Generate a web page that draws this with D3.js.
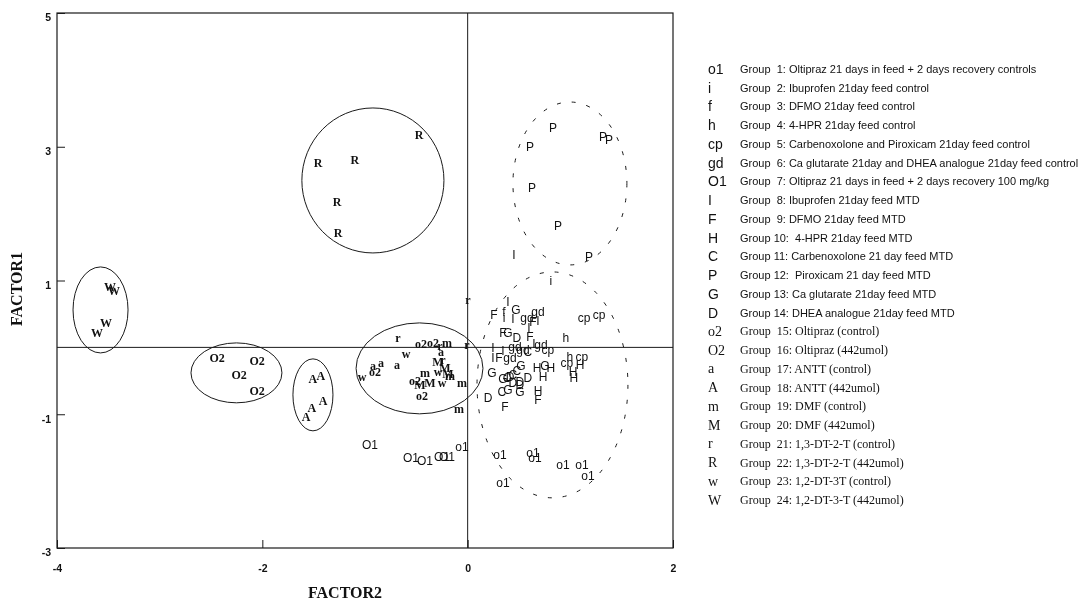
<!DOCTYPE html>
<html><head><meta charset="utf-8">
<script src="https://cdn.jsdelivr.net/npm/d3@7"></script>
<style>body{margin:0;background:#fff} svg{filter:grayscale(1)}</style>
</head><body><svg id="c" width="1080" height="602"></svg>
<script>
// ---------- data ----------
const xTicks = [-4, -2, 0, 2];
const yTicks = [5, 3, 1, -1, -3];
const xTitle = "FACTOR2";
const yTitle = "FACTOR1";

const legendSymbols = ["o1","i","f","h","cp","gd","O1","I","F","H","C","P","G","D",
  "o2","O2","a","A","m","M","r","R","w","W"];
const legendTexts = [
  "Group  1: Oltipraz 21 days in feed + 2 days recovery controls",
  "Group  2: Ibuprofen 21day feed control",
  "Group  3: DFMO 21day feed control",
  "Group  4: 4-HPR 21day feed control",
  "Group  5: Carbenoxolone and Piroxicam 21day feed control",
  "Group  6: Ca glutarate 21day and DHEA analogue 21day feed control",
  "Group  7: Oltipraz 21 days in feed + 2 days recovery 100 mg/kg",
  "Group  8: Ibuprofen 21day feed MTD",
  "Group  9: DFMO 21day feed MTD",
  "Group 10:  4-HPR 21day feed MTD",
  "Group 11: Carbenoxolone 21 day feed MTD",
  "Group 12:  Piroxicam 21 day feed MTD",
  "Group 13: Ca glutarate 21day feed MTD",
  "Group 14: DHEA analogue 21day feed MTD",
  "Group  15: Oltipraz (control)",
  "Group  16: Oltipraz (442umol)",
  "Group  17: ANTT (control)",
  "Group  18: ANTT (442umol)",
  "Group  19: DMF (control)",
  "Group  20: DMF (442umol)",
  "Group  21: 1,3-DT-2-T (control)",
  "Group  22: 1,3-DT-2-T (442umol)",
  "Group  23: 1,2-DT-3T (control)",
  "Group  24: 1,2-DT-3-T (442umol)"
];
const serifSymbols = ["o2","O2","a","A","m","M","r","R","w","W"];

// points: [symbol, FACTOR2, FACTOR1]
const sansPoints = [
  ["I",0.393,0.680],["G",0.470,0.561],["F",0.256,0.486],["f",0.354,0.531],["i",0.354,0.441],
  ["I",0.441,0.426],["gd",0.578,0.441],["gd",0.685,0.531],["F",0.636,0.381],["I",0.685,0.396],
  ["I",0.597,0.292],["F",0.344,0.217],["G",0.393,0.217],["D",0.480,0.142],["F",0.607,0.157],
  ["I",0.246,-0.007],["I",0.344,-0.052],["gd",0.461,0.007],["gd",0.539,-0.037],["C",0.587,-0.067],
  ["I",0.646,0.052],["gd",0.714,0.037],["cp",0.782,-0.037],["I",0.246,-0.157],["F",0.305,-0.157],
  ["gd",0.412,-0.157],["G",0.519,-0.277],["G",0.237,-0.381],["G",0.344,-0.471],["C",0.383,-0.456],
  ["D",0.412,-0.441],["C",0.441,-0.411],["C",0.480,-0.351],["D",0.509,-0.516],["D",0.587,-0.456],
  ["C",0.334,-0.665],["G",0.393,-0.635],["G",0.509,-0.665],["D",0.441,-0.531],["D",0.509,-0.561],
  ["H",0.675,-0.306],["G",0.753,-0.277],["H",0.811,-0.306],["H",0.734,-0.441],["H",0.685,-0.650],
  ["F",0.685,-0.785],["D",0.198,-0.755],["F",0.363,-0.889],["h",0.957,0.142],["cp",1.133,0.441],
  ["cp",1.279,0.486],["h",0.996,-0.142],["cp",1.113,-0.142],["cp",0.967,-0.232],["H",1.094,-0.262],
  ["H",1.026,-0.366],["H",1.035,-0.456],["I",0.451,1.383],["i",0.811,0.994],
  ["P",0.831,3.281],["P",0.607,2.997],["P",1.318,3.147],["P",1.376,3.102],["P",0.626,2.384],
  ["P",0.880,1.816],["P",1.182,1.353],
  ["O1",-0.952,-1.457],["O1",-0.553,-1.652],["O1",-0.416,-1.697],["O1",-0.251,-1.637],["O1",-0.202,-1.637],
  ["o1",-0.055,-1.487],["o1",0.315,-1.607],["o1",0.636,-1.577],["o1",0.656,-1.652],["o1",0.928,-1.756],
  ["o1",1.113,-1.756],["o1",0.344,-2.025],["o1",1.172,-1.921]
];
const serifPoints = [
  ["W",-3.484,0.904],["W",-3.445,0.845],["W",-3.523,0.366],["W",-3.611,0.217],
  ["R",-1.458,2.758],["R",-1.098,2.803],["R",-0.474,3.177],["R",-1.273,2.175],["R",-1.263,1.712],
  ["O2",-2.440,-0.157],["O2",-2.051,-0.202],["O2",-2.226,-0.411],["O2",-2.051,-0.650],
  ["A",-1.507,-0.471],["A",-1.429,-0.426],["A",-1.409,-0.800],["A",-1.517,-0.904],["A",-1.575,-1.039],
  ["r",-0.679,0.142],["o2",-0.455,0.052],["o2",-0.338,0.067],["r",-0.270,0.022],["m",-0.202,0.067],
  ["r",-0.007,0.037],["r",0.003,0.710],["a",-0.260,-0.067],["w",-0.601,-0.097],["a",-0.844,-0.232],
  ["a",-0.689,-0.262],["a",-0.922,-0.277],["o2",-0.903,-0.366],["w",-1.029,-0.441],["M",-0.289,-0.217],
  ["r",-0.241,-0.187],["M",-0.221,-0.306],["M",-0.192,-0.396],["m",-0.172,-0.426],["m",-0.416,-0.381],
  ["w",-0.289,-0.366],["o2",-0.513,-0.501],["M",-0.465,-0.561],["M",-0.367,-0.531],["w",-0.250,-0.531],
  ["o2",-0.445,-0.725],["m",-0.055,-0.531],["m",-0.085,-0.919]
];
// cluster ellipses: [centre FACTOR2, centre FACTOR1, half-width, half-height]
const solidEllipses = [
  [-3.576,0.56,0.268,0.643],[-0.923,2.496,0.692,1.084],[-2.252,-0.381,0.443,0.448],
  [-1.507,-0.710,0.195,0.538],[-0.469,-0.314,0.618,0.680]
];
const dashedEllipses = [
  [0.996,2.451,0.555,1.218],[0.826,-0.561,0.735,1.689]
];

// ---------- drawing ----------
const svg = d3.select("#c");
const L = 57, R = 673, T = 13, B = 548;
const x = d3.scaleLinear().domain([-4, 2]).range([L, R]);
const y = d3.scaleLinear().domain([-3, 5]).range([B, T]);
const ink = "#1a1a1a";
const sans = "'Liberation Sans', Arial, sans-serif";
const serif = "'Liberation Serif', 'Times New Roman', serif";

svg.append("rect").attr("x", 0).attr("y", 0).attr("width", 1080).attr("height", 602).attr("fill", "#fff");
svg.append("rect").attr("x", L).attr("y", T).attr("width", R - L).attr("height", B - T)
  .attr("fill", "none").attr("stroke", ink).attr("stroke-width", 1.2);

// zero lines
svg.append("line").attr("x1", L).attr("x2", R).attr("y1", y(0)).attr("y2", y(0))
  .attr("stroke", ink).attr("stroke-width", 1);
svg.append("line").attr("x1", x(0)).attr("x2", x(0)).attr("y1", T).attr("y2", B)
  .attr("stroke", ink).attr("stroke-width", 1);

// axes
const yAxis = svg.append("g").attr("transform", `translate(${L},0)`)
  .call(d3.axisLeft(y).tickValues(yTicks).tickSize(-8).tickPadding(6).tickFormat(d3.format("d")));
const xAxis = svg.append("g").attr("transform", `translate(0,${B})`)
  .call(d3.axisBottom(x).tickValues(xTicks).tickSize(-8).tickPadding(17).tickFormat(d3.format("d")));
[xAxis, yAxis].forEach(g => {
  g.select(".domain").remove();
  g.selectAll(".tick line").attr("stroke", ink);
  g.selectAll(".tick text").attr("font-family", sans).attr("font-weight", "bold")
    .attr("font-size", 10.5).attr("fill", "#111");
});
yAxis.selectAll(".tick text").attr("dy", "0.75em");
xAxis.selectAll(".tick text").text(d => d < 0 ? "-" + Math.abs(d) : d);
yAxis.selectAll(".tick text").text(d => d < 0 ? "-" + Math.abs(d) : d);

// axis titles
svg.append("text").attr("x", 345).attr("y", 598).attr("text-anchor", "middle")
  .attr("font-family", serif).attr("font-weight", "bold").attr("font-size", 16).attr("fill", "#111")
  .text(xTitle);
svg.append("text").attr("transform", "translate(22,289) rotate(-90)").attr("text-anchor", "middle")
  .attr("font-family", serif).attr("font-weight", "bold").attr("font-size", 16).attr("fill", "#111")
  .text(yTitle);

// ellipses
const ell = (arr, dashed) => svg.append("g").selectAll("ellipse").data(arr).join("ellipse")
  .attr("cx", d => x(d[0])).attr("cy", d => y(d[1]))
  .attr("rx", d => x(d[0] + d[2]) - x(d[0])).attr("ry", d => y(d[1] - d[3]) - y(d[1]))
  .attr("fill", "none").attr("stroke", ink).attr("stroke-width", 1)
  .attr("stroke-dasharray", dashed ? "4,11" : null);
ell(solidEllipses, false);
ell(dashedEllipses, true);

// point labels
svg.append("g").selectAll("text").data(sansPoints).join("text")
  .attr("x", d => x(d[1])).attr("y", d => y(d[2]))
  .attr("text-anchor", "middle").attr("dominant-baseline", "central")
  .attr("font-family", sans).attr("font-size", 12).attr("fill", "#111").text(d => d[0]);
svg.append("g").selectAll("text").data(serifPoints).join("text")
  .attr("x", d => x(d[1])).attr("y", d => y(d[2]))
  .attr("text-anchor", "middle").attr("dominant-baseline", "central")
  .attr("font-family", serif).attr("font-weight", "bold").attr("font-size", 12).attr("fill", "#111")
  .text(d => d[0]);

// legend
const rowY = d3.scaleLinear().domain([0, legendSymbols.length - 1]).range([69, 500]);
const lg = svg.append("g");
legendSymbols.forEach((s, i) => {
  const isSerif = serifSymbols.includes(s);
  lg.append("text").attr("x", 708).attr("y", rowY(i)).attr("dominant-baseline", "central")
    .attr("font-family", isSerif ? serif : sans).attr("font-size", 14)
    .attr("fill", "#111").text(s);
  lg.append("text").attr("x", 740).attr("y", rowY(i)).attr("dominant-baseline", "central")
    .style("white-space", "pre")
    .attr("font-family", isSerif ? serif : sans).attr("font-size", isSerif ? 12 : 11)
    .attr("fill", "#111").text(legendTexts[i]);
});
</script>
</body></html>
